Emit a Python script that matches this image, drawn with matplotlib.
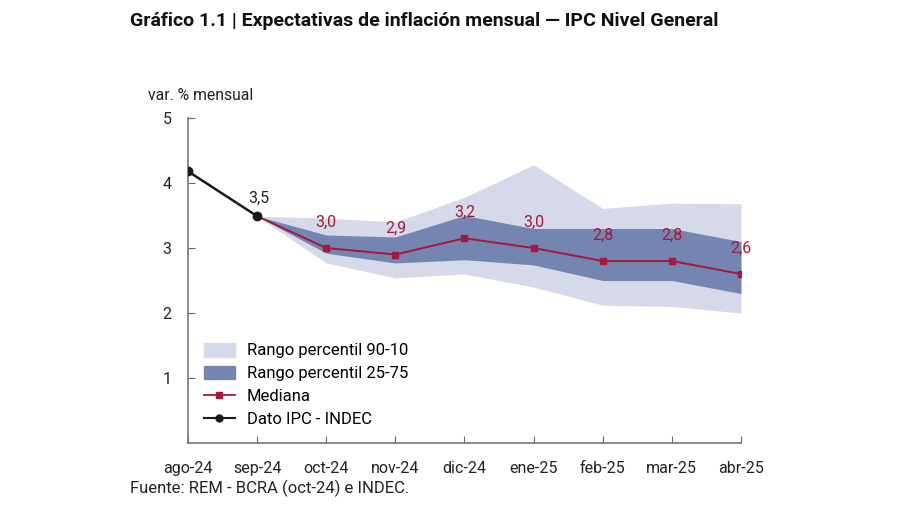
import matplotlib
matplotlib.use("Agg")
import matplotlib.pyplot as plt
from matplotlib.patches import Patch
from matplotlib.lines import Line2D

plt.rcParams['font.family'] = ['Roboto', 'DejaVu Sans']

meses = ['ago-24', 'sep-24', 'oct-24', 'nov-24', 'dic-24', 'ene-25', 'feb-25', 'mar-25', 'abr-25']

# dato observado (ago-24, sep-24)
ipc = [4.18, 3.49]

# expectativas REM desde sep-24
mediana = [3.49, 3.0, 2.9, 3.15, 3.0, 2.8, 2.8, 2.6]
mediana_txt = ['3,0', '2,9', '3,2', '3,0', '2,8', '2,8', '2,6']
p25 = [3.49, 2.92, 2.77, 2.82, 2.74, 2.5, 2.5, 2.3]
p75 = [3.49, 3.2, 3.17, 3.5, 3.3, 3.3, 3.3, 3.1]
p10 = [3.49, 2.77, 2.54, 2.6, 2.4, 2.12, 2.1, 2.0]
p90 = [3.49, 3.46, 3.4, 3.78, 4.28, 3.61, 3.69, 3.68]

c_claro = '#d5d9ea'
c_oscuro = '#7485b1'
c_med = '#a3183c'

fig = plt.figure(figsize=(9, 5.05), dpi=100)
ax = fig.add_axes([0.2089, 0.1228, 0.6144, 0.6435])

x_ipc = list(range(len(ipc)))
x_rem = list(range(1, len(meses)))

ax.fill_between(x_rem, p10, p90, color=c_claro, lw=0, zorder=1)
ax.fill_between(x_rem, p25, p75, color=c_oscuro, lw=0, zorder=2)
ax.plot(x_rem, mediana, color=c_med, lw=1.4, marker='s', ms=4.5, zorder=3)
ax.plot(x_ipc, ipc, color='#1a1a1a', lw=1.8, marker='o', ms=6, zorder=4)

for xi, yi, t in zip(x_rem[1:], mediana[1:], mediana_txt):
    ax.annotate(t, (xi, yi), xytext=(0, 18.5), textcoords='offset points',
                ha='center', va='center', color=c_med, fontsize=11.5)
ax.annotate('3,5', (x_ipc[1], ipc[1]), xytext=(1, 13), textcoords='offset points',
            ha='center', va='center', color='#222222', fontsize=11.5)

ax.set_xlim(0, len(meses) - 1)
ax.set_ylim(0, 5)
ax.set_xticks(range(len(meses)))
ax.set_xticklabels(meses)
ax.set_yticks([1, 2, 3, 4, 5])
ax.tick_params(axis='both', direction='in', length=5, color='#666666',
               labelsize=11.5, labelcolor='#222222')
ax.tick_params(axis='x', pad=13)
ax.tick_params(axis='y', pad=12)
for s in ['top', 'right']:
    ax.spines[s].set_visible(False)
for s in ['left', 'bottom']:
    ax.spines[s].set_color('#777777')
    ax.spines[s].set_linewidth(1.2)

handles = [
    Patch(color=c_claro, label='Rango percentil 90-10'),
    Patch(color=c_oscuro, label='Rango percentil 25-75'),
    Line2D([], [], color=c_med, lw=1.3, marker='s', ms=4, label='Mediana'),
    Line2D([], [], color='#1a1a1a', lw=1.5, marker='o', ms=5, label='Dato IPC - INDEC'),
]
ax.legend(handles=handles, loc='lower left', bbox_to_anchor=(-0.008, -0.012), frameon=False,
          fontsize=12, handlelength=1.9, handleheight=0.9, labelspacing=0.43,
          borderaxespad=0.8, handletextpad=0.7)

fig.text(148 / 900, 1 - 96 / 505, 'var. % mensual', fontsize=11.3, color='#222222',
         ha='left', va='center')
fig.text(130 / 900, 1 - 21 / 505,
         'Gráfico 1.1 | Expectativas de inflación mensual — IPC Nivel General',
         fontsize=14, fontweight='bold', color='#111111', ha='left', va='center')
fig.text(130 / 900, 1 - 488 / 505, 'Fuente: REM - BCRA (oct-24) e INDEC.',
         fontsize=12, color='#222222', ha='left', va='center')

fig.savefig('out.png', dpi=100)
